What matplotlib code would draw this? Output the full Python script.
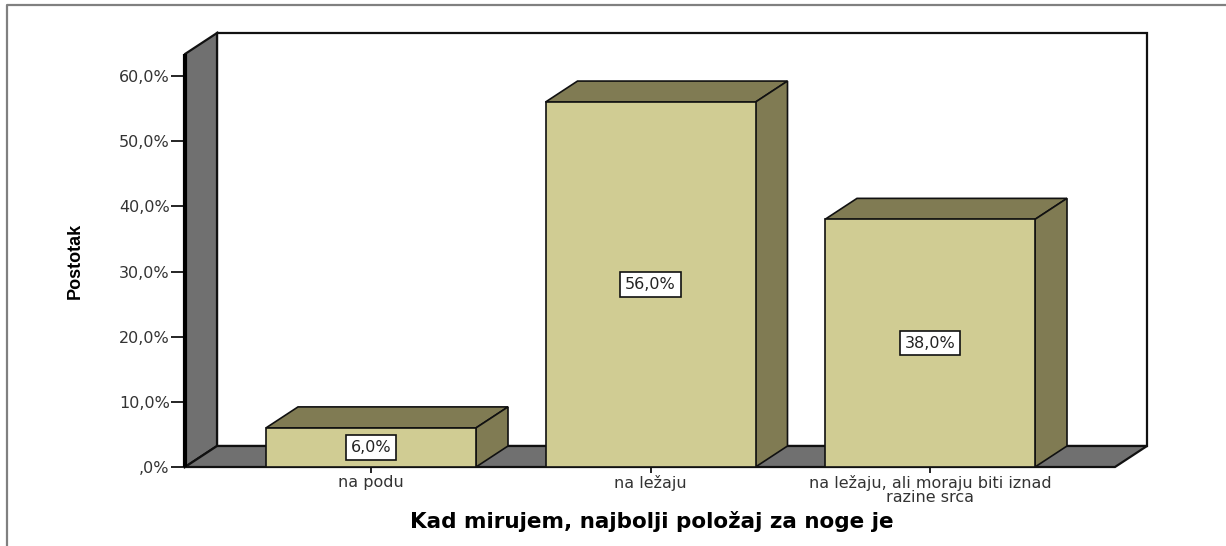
import matplotlib
matplotlib.use('Agg')
import matplotlib.pyplot as plt
from matplotlib.patches import Polygon, Rectangle

categories = ['na podu', 'na ležaju', 'na ležaju, ali moraju biti iznad\nrazine srca']
values = [6.0, 56.0, 38.0]
labels = ['6,0%', '56,0%', '38,0%']
yticks = [0, 10, 20, 30, 40, 50, 60]
yticklabels = [',0%', '10,0%', '20,0%', '30,0%', '40,0%', '50,0%', '60,0%']

W, H = 1226, 546
fig = plt.figure(figsize=(W / 100, H / 100), dpi=100)

# outer frame
fig.add_artist(plt.Line2D([6.5 / W, 6.5 / W, 1], [0, 1 - 4.5 / H, 1 - 4.5 / H], color='#808080', lw=1.6))

# axes = front plane of the 3d box
ax = fig.add_axes([185 / W, 1 - 467 / H, 930 / W, 413 / H])
px_x = 279.5
px_y = 391 / 60
ax.set_xlim(-186 / px_x, 744 / px_x)
ax.set_ylim(0, 413 / px_y)
dx = 32 / px_x
dy = 21 / px_y
x0, x1 = ax.get_xlim()
y0, y1 = ax.get_ylim()
bw = 210 / px_x


def poly(pts, fc, lw=1.5, z=2):
    ax.add_patch(Polygon(pts, closed=True, fc=fc, ec='#111111', lw=lw, zorder=z, clip_on=False, joinstyle='miter'))


grey = '#707070'
# back wall, left wall, floor
poly([(x0 + dx, dy), (x1 + dx, dy), (x1 + dx, y1 + dy), (x0 + dx, y1 + dy)], 'white', 1.6, 1)
poly([(x0, y0), (x0 + dx, dy), (x0 + dx, y1 + dy), (x0, y1)], grey, 1.6, 1)
poly([(x0, y0), (x1, y0), (x1 + dx, dy), (x0 + dx, dy)], grey, 1.6, 1)
ax.plot([x0, x0], [y0, y1], color='black', lw=3, clip_on=False, zorder=2, solid_capstyle='butt')

for i, v in enumerate(values):
    l, r = i - bw / 2, i + bw / 2
    poly([(l, v), (r, v), (r + dx, v + dy), (l + dx, v + dy)], '#807b53', 1.2, 3)
    poly([(r, 0), (r + dx, dy), (r + dx, v + dy), (r, v)], '#807b53', 1.2, 3)
    ax.add_patch(Rectangle((l, 0), bw, v, fc='#d0cc93', ec='#111111', lw=1.2, zorder=4, clip_on=False))
    ax.text(i, v / 2, labels[i], ha='center', va='center', fontsize=11.5, color='#222222', zorder=5,
            family='DejaVu Sans', bbox=dict(boxstyle='square,pad=0.3', fc='white', ec='#111111', lw=1.2))

for s in ax.spines.values():
    s.set_visible(False)
ax.patch.set_visible(False)
ax.set_yticks(yticks)
ax.set_yticklabels(yticklabels, fontsize=11.5, color='#333333', family='DejaVu Sans')
ax.set_xticks(range(len(categories)))
ax.set_xticklabels(categories, fontsize=11.5, color='#333333', linespacing=0.85, family='DejaVu Sans')
ax.tick_params(axis='y', length=10, width=1.2, pad=1)
ax.tick_params(axis='x', length=4, width=1.2, pad=2)

fig.text(652 / W, 1 - 522 / H, 'Kad mirujem, najbolji položaj za noge je', ha='center', va='center',
         fontsize=15.5, fontweight='bold', color='black', family='DejaVu Sans')
fig.text(75 / W, 1 - 261 / H, 'Postotak', rotation=90, ha='center', va='center',
         fontsize=13, fontweight='bold', family='Liberation Sans', color='black')

fig.savefig('out.png', dpi=100)
